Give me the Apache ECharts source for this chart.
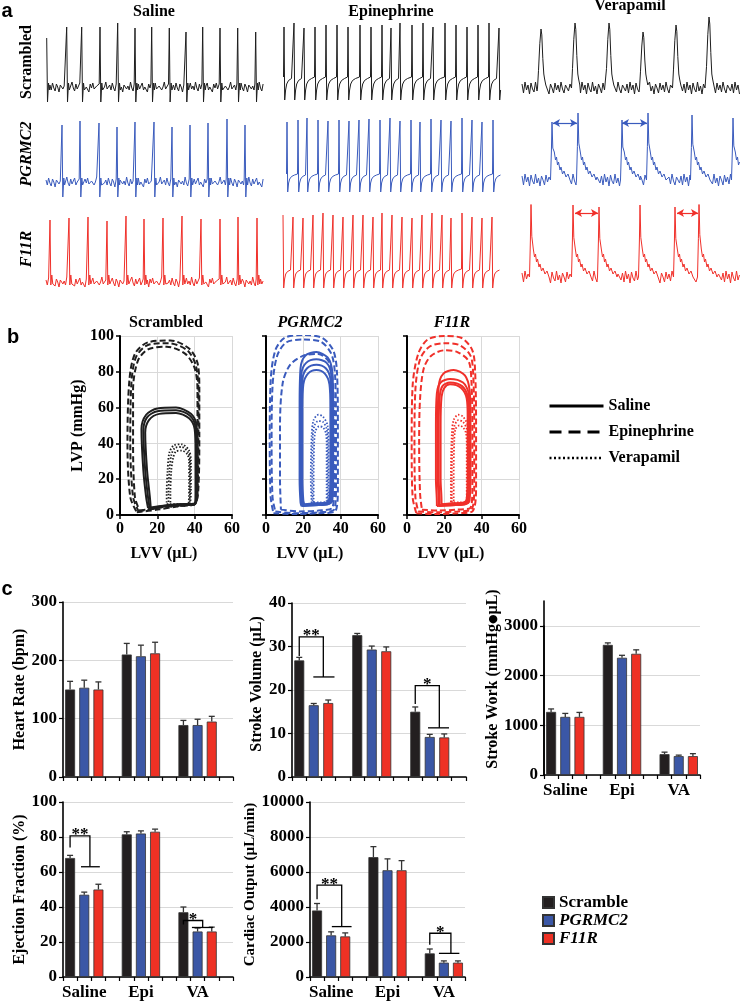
<!DOCTYPE html>
<html><head><meta charset="utf-8">
<script src="https://cdn.jsdelivr.net/npm/echarts@6/dist/echarts.min.js"></script>
<style>html,body{margin:0;padding:0;background:#fff}#c{width:740px;height:1001px}</style>
</head><body><div id="c"></div><script>
// ================= DATA =================
// --- panel a: ECG traces (beat position, beat amplitude) ---
const scrSalBeats = [[0.7,49],[20.7,60],[35.7,60],[54,60],[71.7,64],[89,59],[105.7,60],[123.3,59],[140,55],[156.7,60],[174,59],[191.7,59],[209.7,55]];
const pgSalBeats  = [[16,57],[34,61],[53,59],[71,55],[89,60],[108,60],[126,55],[144,57],[162,59],[181,63],[199,57]];
const f11SalBeats = [[4,62],[23,64],[42,65],[61,61],[80,66],[98,63],[117,64],[136,66],[155,63],[174,63],[192,65],[211,64]];
const scrEpiBeats = [[1,61],[11,65],[21,60],[32,61],[43,63],[54,63],[65,61],[77,63],[88,61],[99,63],[108,60],[117,65],[129,63],[140,65],[150,61],[162,65],[173,63],[184,61],[195,63],[206,65],[216,60]];
const pgEpiBeats  = [[4,60],[15,62],[24,64],[35,62],[45,61],[56,62],[66,61],[76,62],[86,63],[97,62],[107,64],[117,61],[128,62],[137,60],[148,63],[158,62],[168,61],[179,64],[189,62],[199,60],[210,62]];
const f11EpiBeats = [[0,67],[10,65],[20,64],[30,67],[40,69],[50,67],[60,65],[70,67],[80,67],[90,65],[99,69],[109,67],[119,65],[129,64],[139,67],[149,69],[159,67],[168,64],[179,69],[189,65],[199,64],[209,65]];
const scrVeraBeats = [[19,59],[53,65],[87,65],[121,56],[154,63],[187,71]];
const pgVeraBeats  = [[30,58],[56,67],[100,60],[126,67],[170,65],[211,62]];
const f11VeraBeats = [[9,74],[51,72],[77,70],[118,72],[153,70],[177,77]];
const pgArrows  = [[31,55,57],[100,125,57]];
const f11Arrows = [[53,76,64],[155,176,64]];
// beat shapes: [dx, fraction of amplitude, offset]
const salTpl    = [[-0.8,0,3],[0,1,0],[0.8,0,-15],[1.8,0,4],[2.6,0,-3]];
const salTplRed = [[-0.8,0,3],[0,1,0],[0.8,0,-3],[1.8,0,7],[2.8,0,-2]];
const epiTplScr = [[-0.5,0,11],[0,1,0],[0.7,0,-12],[1.6,0,-2],[2.7,0,4],[4.5,0,7.5],[7.5,0,9.5]];
const epiTplPg  = [[-0.5,0,8],[0,1,0],[0.7,0,-10],[1.6,0,-1],[2.7,0,3],[4.5,0,5.5],[7.5,0,7]];
const epiTplF11 = [[-0.5,0,13],[0,1,0],[0.7,0,-6],[1.6,0,3],[2.7,0,8],[4.5,0,10.5],[7.5,0,12]];
const veraTplScr  = [[-3.5,0,0],[-2.5,0.3,0],[-1.2,0.75,0],[0,1,0],[0.8,0.9,0],[1.8,0.5,0],[2.8,0,14],[3.6,0,9],[4.8,0,3]];
const veraTplWide = [[-1.5,0,0],[-0.6,0.5,0],[0,1,0],[0.8,0.55,0],[2.3,0,28],[3.5,0,20],[4.5,0,23],[5.5,0,15],[6.5,0,18],[8,0,10],[9,0,13],[10.5,0,6],[12,0,9],[14,0,3],[16,0,6],[18,0,0]];
const noiseSal  = [2,-3,4,-1,-4,3,0,-5,2,4,-2,1,-3,5,-1,-4,3,-2,1,4,-3,0,2,-5,3,-1,4,-2,-4,1,3,-3,0,5,-2,-1];
const noiseVera = [4,-5,6,-2,3,-6,5,-1,-4,6,-3,2,-6,4,0,-5,5,-2,3,-4,6,-1,-5,3,1,-3];

// --- panel b: PV loops [LVV, LVP] ---
const scrSalLoops = [
 [[15,4],[22,5],[32,6],[40,6.5],[41.5,12],[41.5,35],[41,50],[38,56.5],[30,60],[20,59.5],[14,56],[11.5,48],[12.5,25],[14,10],[15,4]],
 [[16,3],[22,4.5],[32,5.5],[40,6],[41,12],[41,35],[40.5,49],[37.5,55.5],[30,58.5],[20,58],[14.5,54.5],[12.5,47],[13.5,25],[15,10],[16,3]],
 [[16.5,3.5],[23,5],[32,6],[39.5,6],[40.5,12],[40.5,35],[40,48],[37,54],[30,57],[21,56.5],[15.5,53],[13.5,46],[14.5,25],[16,10],[16.5,3.5]]];
const scrEpiLoops = [
 [[9,1.5],[20,3],[32,5],[40,6],[42,15],[42.5,45],[42.5,70],[41.5,85],[37,93],[27,97.5],[15,96.5],[8,90],[5,75],[4,40],[5.5,10],[9,1.5]],
 [[10,2],[20,4],[32,5.5],[40,6],[41.5,15],[42,45],[42,70],[40.5,84],[36,92],[26,96],[15,95],[8.5,88],[6,72],[5.5,40],[7,10],[10,2]],
 [[10.5,2.5],[20,4],[32,5.5],[40,6],[41,15],[41.5,45],[41.5,70],[40,82],[35,90],[25,94],[15,92.5],[9.5,86],[7,70],[7,40],[8,10],[10.5,2.5]]];
const scrVeraLoops = [
 [[25,6],[32,6],[37,6],[38,15],[38,30],[37,36],[33,39.5],[29,39],[26.5,35],[25.5,25],[25,12],[25,6]],
 [[26,5],[32,5.5],[37,6],[37.5,15],[37.5,30],[36.5,35],[33,38],[29.5,37.5],[27.5,33.5],[26.5,25],[26,12],[26,5]],
 [[27,4.5],[32,5],[36.5,5.5],[37,15],[37,30],[36,34],[33,36],[30,35.5],[28.5,32],[27.5,25],[27,12],[27,4.5]]];
const pgSalLoops = [
 [[19,5],[26,5.5],[33,6],[35.5,8],[36,25],[36,60],[35.5,80],[33,88],[27,91],[21,89],[18.5,82],[18,60],[18,20],[18.5,7],[19,5]],
 [[19.5,5],[26,5.5],[33,6],[35,8],[35.5,25],[35.5,60],[35,78],[32.5,85],[27,87],[21.5,85],[19,79],[18.5,60],[18.5,20],[19,7],[19.5,5]],
 [[20,5.5],[26,6],[33,6.5],[34.5,8],[35,25],[35,60],[34.5,76],[32,82],[27,84],[22,82],[19.5,76],[19,60],[19,20],[19.5,7.5],[20,5.5]],
 [[20.5,6],[26,6.5],[32.5,7],[34,9],[34.5,25],[34.5,60],[34,73],[31.5,79],[27,81],[22.5,79],[20,73],[19.5,60],[19.5,20],[20,8],[20.5,6]]];
const pgEpiLoops = [
 [[4,1],[15,0.5],[28,1],[37,2],[38.5,15],[38.5,50],[38,80],[36,92],[30,99],[20,100.5],[10,99],[5,92],[2.5,75],[2,40],[2.5,10],[4,1]],
 [[5,2],[15,1],[28,1.5],[36.5,3],[37.5,15],[37.5,50],[37,78],[35,90],[29,97],[20,98],[11,96.5],[6,89],[3.5,72],[3,40],[3.5,10],[5,2]],
 [[8,3],[18,2],[28,2.5],[35.5,4],[36.5,15],[36.5,50],[36,72],[34,85],[28,90],[20,89],[13,84],[9,74],[7.5,50],[7.5,20],[8,3]]];
const pgVeraLoops = [
 [[24.5,6],[29,6],[33,6.5],[33.5,15],[33.5,40],[33,50],[30.5,55],[28,56],[25.5,53],[24.5,45],[24,20],[24.5,6]],
 [[25,6.5],[29,6.5],[33,7],[33,15],[33,40],[32.5,48],[30.5,52],[28,52.5],[26,50],[25,43],[24.8,20],[25,6.5]],
 [[25.5,7],[29,7],[32.5,7.5],[32.5,15],[32.5,40],[32,46],[30.5,49],[28.5,49.5],[26.5,47],[25.8,40],[25.5,20],[25.5,7]]];
const f11SalLoops = [
 [[17,5],[24,5.5],[31,6],[33.5,8],[34,25],[34,55],[33.5,70],[31,78],[25,81],[19.5,79],[17,72],[16.5,50],[16.5,20],[17,7],[17,5]],
 [[16,5],[24,5.5],[31,6],[33,8],[33.5,25],[33.5,55],[33,68],[30,74],[23,76],[18,74],[16,68],[15.5,50],[15.5,20],[16,7],[16,5]],
 [[17.5,5.5],[24,6],[31,6.5],[32.5,9],[33,25],[33,55],[32.5,66],[29.5,72],[23,74],[19,72],[17.5,66],[17,50],[17,20],[17.5,8],[17.5,5.5]],
 [[18.5,6],[24,6.5],[30.5,7],[32,9],[32.5,25],[32.5,55],[32,65],[29,71],[23,73],[20,71],[18.5,66],[18,50],[18,20],[18.5,8],[18.5,6]]];
const f11EpiLoops = [
 [[5,1],[15,0.5],[27,1],[35,2],[37,15],[37,50],[36.5,80],[35,92],[29,99],[20,100],[11,98],[6,90],[3,72],[2.5,40],[3,10],[5,1]],
 [[6,2],[16,1.5],[27,2],[34.5,3],[36,15],[36,50],[35.5,78],[34,89],[28,95],[20,96],[12,94],[7,87],[4.5,70],[4,40],[4.5,10],[6,2]],
 [[8,3],[17,2.5],[27,3],[34,4],[35,15],[35,50],[34.5,75],[33,86],[27,91],[20,92],[13,89],[9,82],[7,65],[6.5,40],[7,12],[8,3]]];
const f11VeraLoops = [
 [[23.5,6],[28,6],[32.5,6.5],[33,15],[33,40],[32.5,50],[30,55],[27.5,56],[25,53],[24,45],[23.5,20],[23.5,6]],
 [[24,6.5],[28,6.5],[32.5,7],[32.5,15],[32.5,40],[32,48],[30,52],[27.5,53],[25.5,50],[24.5,43],[24,20],[24,6.5]],
 [[25,7],[28,7],[32,7.5],[32,15],[32,40],[31.5,46],[30,49],[28,50],[26,48],[25.3,41],[25,20],[25,7]]];

// --- panel c: bar charts, rows = Scramble, PGRMC2, F11R ; cols = Saline, Epi, VA ---
const groupNames = ['Saline','Epi','VA'];
const barNames = ['Scramble','PGRMC2','F11R'];
const hrMeans = [[150,210,89],[153,207,89],[150,212,95]];
const hrErrs  = [[14,19,8],[13,19,10],[13,19,9]];
const svMeans = [[26.8,32.6,15.0],[16.5,29.3,9.2],[17.0,28.9,9.1]];
const svErrs  = [[0.7,0.4,1.1],[0.4,0.8,0.6],[0.7,1.0,0.8]];
const swMeans = [[1270,2620,420],[1170,2360,380],[1170,2440,380]];
const swErrs  = [[60,40,40],[70,50,20],[90,80,50]];
const efMeans = [[68,81.5,37],[47,82,26],[50,83,26]];
const efErrs  = [[1.5,1.5,3],[1.5,1.5,2],[3,1.5,2.5]];
const coMeans = [[3800,6850,1350],[2380,6100,820],[2320,6100,820]];
const coErrs  = [[400,600,250],[200,650,100],[200,550,100]];
// significance brackets: [left leg x, right leg x, top, left leg bottom, right leg bottom, bar from, bar to] (x in bar-slot units)
const svBrackets = [[0,1.66,32.2,27.8,23,0.97,2.43],[8,9.66,21,16.8,11.3,8.88,10.33]];
const efBrackets = [[0,1.4,80.6,74,63,0.77,2.1],[8,9.36,32.3,30,28.3,8.6,10.1]];
const coBrackets = [[0,1.75,5250,4450,2880,1.05,2.45],[8,9.5,2500,1850,1350,8.65,10.1]];
const svStars = ['**','*'], efStars = ['**','*'], coStars = ['**','*'];

// ================= BUILD =================
const SERIF = '"Liberation Serif","Times New Roman",serif';
const traceCols = ['#1e1e1e','#3a5bbd','#f0302a'];
const barCols = ['#231f20','#3b57a6','#ee3124'];
const grids = [], xAxes = [], yAxes = [], series = [];
const plain = v => String(v);

function buildTrace(beats, tpl, noise, step, len) {
  const pts = [];
  const lo = tpl[0][0], hi = tpl[tpl.length-1][0];
  if (noise) {
    let k = 0;
    for (let x = 0; x <= len; x += step) {
      if (beats.some(b => x >= b[0] + lo - 0.4 && x <= b[0] + hi + 0.4)) continue;
      pts.push([x, noise[k++ % noise.length]]);
    }
  }
  beats.forEach(b => tpl.forEach(t => {
    const x = b[0] + t[0];
    if (x >= 0 && x <= len) pts.push([x, t[1]*b[1] + t[2]]);
  }));
  pts.sort((a, b) => a[0] - b[0]);
  return pts;
}

const ecgLeft = [46, 283, 522];
const ecgBase = [[87,88,88],[182,182,180],[282,282,277]];
const ecgSpec = [
  [scrSalBeats, salTpl, noiseSal, 1.3], [scrEpiBeats, epiTplScr, null, 1], [scrVeraBeats, veraTplScr, noiseVera, 1.5],
  [pgSalBeats, salTpl, noiseSal, 1.3],  [pgEpiBeats, epiTplPg, null, 1],   [pgVeraBeats, veraTplWide, noiseVera, 1.5],
  [f11SalBeats, salTplRed, noiseSal, 1.3], [f11EpiBeats, epiTplF11, null, 1], [f11VeraBeats, veraTplWide, noiseVera, 1.5]];
ecgSpec.forEach((s, i) => {
  const r = Math.floor(i/3), c = i % 3, g = grids.length;
  grids.push({left: ecgLeft[c], top: ecgBase[r][c] - 72, width: 218, height: 96, outerBoundsMode: 'none'});
  xAxes.push({gridIndex: g, type: 'value', min: 0, max: 218, show: false});
  yAxes.push({gridIndex: g, type: 'value', min: -24, max: 72, show: false});
  const ser = {type: 'line', xAxisIndex: g, yAxisIndex: g, data: buildTrace(s[0], s[1], s[2], s[3], 218),
    showSymbol: false, symbol: 'none', silent: true, lineStyle: {color: traceCols[r], width: 1}, z: 2};
  const arrows = (i === 5) ? pgArrows : (i === 8) ? f11Arrows : null;
  if (arrows) ser.markLine = {silent: true, symbol: ['arrow','arrow'], symbolSize: [6,7], label: {show: false},
    lineStyle: {color: traceCols[r], width: 1.2, type: 'solid'},
    data: arrows.map(a => [{coord: [a[0], a[2]]}, {coord: [a[1], a[2]]}])};
  series.push(ser);
});

// PV plots
const lbl = {fontFamily: SERIF, fontWeight: 'bold', color: '#000'};
const splitGray = {show: true, lineStyle: {color: '#d9d9d9', width: 1}};
const pvLefts = [120, 266, 407];
const pvSets = [[scrSalLoops, scrEpiLoops, scrVeraLoops],[pgSalLoops, pgEpiLoops, pgVeraLoops],[f11SalLoops, f11EpiLoops, f11VeraLoops]];
const pvNames = ['Saline','Epinephrine','Verapamil'];
const pvStyles = [{type:'solid', width:2},{type:[6,3], width:2},{type:[1.5,1.8], width:1.8}];
pvLefts.forEach((L, i) => {
  const g = grids.length;
  grids.push({left: L, top: 336, width: 112, height: 179, outerBoundsMode: 'none'});
  xAxes.push({gridIndex: g, type: 'value', min: 0, max: 60, interval: 20,
    axisLine: {show: true, onZero: false, lineStyle: {color: '#000', width: 2}},
    axisTick: {show: true, length: 4, lineStyle: {color: '#000', width: 1.5}},
    axisLabel: {...lbl, fontSize: 16, margin: 6}, splitLine: splitGray,
    name: 'LVV (µL)', nameLocation: 'middle', nameGap: 31, nameTextStyle: {...lbl, fontSize: 16, padding: [0, 24, 0, 0]}});
  yAxes.push({gridIndex: g, type: 'value', min: 0, max: 100, interval: 20,
    axisLine: {show: true, onZero: false, lineStyle: {color: '#000', width: 2}},
    axisTick: {show: true, length: 4, lineStyle: {color: '#000', width: 1.5}},
    axisLabel: {show: i === 0, ...lbl, fontSize: 16, margin: 6}, splitLine: splitGray,
    name: i === 0 ? 'LVP (mmHg)' : '', nameLocation: 'middle', nameRotate: 90, nameGap: 31,
    nameTextStyle: {...lbl, fontSize: 16}});
  pvSets[i].forEach((loops, k) => loops.forEach(Lp => series.push({
    type: 'line', name: pvNames[k], xAxisIndex: g, yAxisIndex: g, data: Lp, showSymbol: false, symbol: 'none',
    smooth: 0.3, silent: true, lineStyle: {color: traceCols[i], ...pvStyles[k]}, itemStyle: {color: traceCols[i]}, z: 3})));
});

// bar charts
function addBarChart(o) {
  const g = grids.length;
  grids.push({left: o.left, top: o.top, width: o.width, height: o.height, outerBoundsMode: 'none'});
  const cats = [];
  for (let i = 0; i < o.nSlots; i++) cats.push(i % 4 === 1 ? groupNames[(i - 1) / 4] : '');
  xAxes.push({gridIndex: g, type: 'category', data: cats, boundaryGap: true,
    axisLine: {show: true, lineStyle: {color: '#000', width: 1.6}},
    axisTick: {show: true, interval: 0, length: 4, lineStyle: {color: '#000', width: 1.2}},
    axisLabel: {show: !!o.showCats, interval: 0, margin: 7, ...lbl, fontSize: 17}, splitLine: {show: false}});
  yAxes.push({gridIndex: g, type: 'value', min: 0, max: o.yMax, interval: o.yInt,
    axisLine: {show: true, lineStyle: {color: '#000', width: 1.6}},
    axisTick: {show: true, length: 4, lineStyle: {color: '#000', width: 1.2}},
    axisLabel: {...lbl, fontSize: 17, margin: 6, formatter: plain}, splitLine: splitGray,
    name: o.yName || '', nameLocation: 'middle', nameRotate: 90, nameGap: o.nameGap || 30,
    nameTextStyle: {...lbl, fontSize: o.nameSize || 16, padding: [0, 0, 0, o.nameShift || 0]}});
  o.means.forEach((arr, m) => {
    const data = cats.map((_, i) => (i % 4 === m && Math.floor(i / 4) < 3) ? arr[Math.floor(i / 4)] : null);
    series.push({type: 'bar', name: barNames[m], xAxisIndex: g, yAxisIndex: g, data, barWidth: 10, barGap: '-100%',
      silent: true, itemStyle: {color: barCols[m], borderColor: '#333', borderWidth: 0.8}, z: 2});
  });
  const errData = [];
  o.means.forEach((arr, m) => arr.forEach((v, gi) => errData.push([gi * 4 + m, v, o.errs[m][gi]])));
  series.push({type: 'custom', xAxisIndex: g, yAxisIndex: g, data: errData, silent: true, z: 4,
    renderItem: (params, api) => {
      const x = api.value(0), v = api.value(1), e = api.value(2);
      const p0 = api.coord([x, v]), p1 = api.coord([x, v + e]);
      const st = {stroke: '#333', lineWidth: 1.3};
      return {type: 'group', children: [
        {type: 'line', shape: {x1: p0[0], y1: p0[1], x2: p1[0], y2: p1[1]}, style: st},
        {type: 'line', shape: {x1: p1[0] - 3, y1: p1[1], x2: p1[0] + 3, y2: p1[1]}, style: st}]};
    }});
  if (o.brackets) series.push({type: 'custom', xAxisIndex: g, yAxisIndex: g, silent: true, z: 5,
    data: o.brackets.map(b => [b[0], b[2]]),
    renderItem: (params, api) => {
      const b = o.brackets[params.dataIndex];
      const x0 = api.coord([0, 0])[0], sw = api.coord([1, 0])[0] - x0;
      const X = f => x0 + f * sw, Y = v => api.coord([0, v])[1];
      const st = {stroke: '#000', lineWidth: 1.3, fill: 'none'};
      return {type: 'group', children: [
        {type: 'polyline', shape: {points: [[X(b[0]), Y(b[3])], [X(b[0]), Y(b[2])], [X(b[1]), Y(b[2])], [X(b[1]), Y(b[4])]]}, style: st},
        {type: 'line', shape: {x1: X(b[5]), y1: Y(b[4]), x2: X(b[6]), y2: Y(b[4])}, style: st},
        {type: 'text', x: (X(b[0]) + X(b[1])) / 2, y: Y(b[2]) - 1,
          style: {text: o.stars[params.dataIndex], font: 'bold 17px ' + SERIF, fill: '#000', align: 'center', verticalAlign: 'middle'}}]};
    }});
}
addBarChart({left: 63, top: 602, width: 170, height: 175, nSlots: 12, yMax: 300, yInt: 100, yName: 'Heart Rate (bpm)', nameGap: 35, means: hrMeans, errs: hrErrs});
addBarChart({left: 292, top: 603, width: 174, height: 174, nSlots: 12, yMax: 40, yInt: 10, yName: 'Stroke Volume (µL)', nameGap: 23, nameShift: 12, means: svMeans, errs: svErrs, brackets: svBrackets, stars: svStars});
// stroke work: tall axis line to 3500, ticks to 3000
(function () {
  const g = grids.length;
  grids.push({left: 544, top: 601, width: 156, height: 174, outerBoundsMode: 'none'});
  xAxes.push({gridIndex: g, type: 'value', min: 0, max: 1, show: false});
  yAxes.push({gridIndex: g, type: 'value', min: 0, max: 3500, axisLine: {show: true, lineStyle: {color: '#000', width: 1.6}},
    axisTick: {show: false}, axisLabel: {show: false}, splitLine: {show: false},
    name: 'Stroke Work (mmHg{b|●}µL)', nameLocation: 'middle', nameRotate: 90, nameGap: 43,
    nameTextStyle: {...lbl, fontSize: 16, padding: [0, 0, 0, 18], rich: {b: {fontSize: 11, fontWeight: 'bold', color: '#000', fontFamily: 'DejaVu Sans'}}}});
})();
addBarChart({left: 544, top: 626, width: 156, height: 149, nSlots: 11, yMax: 3000, yInt: 1000, means: swMeans, errs: swErrs, showCats: true});
addBarChart({left: 63, top: 802, width: 170, height: 175, nSlots: 12, yMax: 100, yInt: 20, yName: 'Ejection Fraction (%)', nameGap: 35, means: efMeans, errs: efErrs, brackets: efBrackets, stars: efStars, showCats: true});
addBarChart({left: 310, top: 802, width: 155, height: 175, nSlots: 11, yMax: 10000, yInt: 2000, yName: 'Cardiac Output (µL/min)', nameGap: 47, nameSize: 15, nameShift: 10, means: coMeans, errs: coErrs, brackets: coBrackets, stars: coStars, showCats: true});

// texts
const T = (text, x, y, font, rot) => ({type: 'text', x, y, rotation: rot || 0, silent: true,
  style: {text, font, fill: '#000', align: 'center', verticalAlign: 'middle'}});
const B16 = 'bold 16px ' + SERIF, BI16 = 'italic bold 16px ' + SERIF;
const LET = 'bold 20px "Liberation Sans",Arial,sans-serif';
const graphic = [
  T('a', 7, 11, LET), T('b', 13, 337, LET), T('c', 7, 589, LET),
  T('Saline', 154, 12, B16), T('Epinephrine', 391, 12, B16), T('Verapamil', 630, 6, B16),
  T('Scrambled', 27, 62, B16, Math.PI / 2), T('PGRMC2', 27, 154, BI16, Math.PI / 2), T('F11R', 27, 249, BI16, Math.PI / 2),
  T('Scrambled', 166, 323, B16), T('PGRMC2', 310, 323, BI16), T('F11R', 452, 323, BI16)];

const option = {
  animation: false, backgroundColor: '#fff',
  grid: grids, xAxis: xAxes, yAxis: yAxes, series, graphic,
  legend: [
    {selectedMode: false, orient: 'vertical', left: 548, top: 398, padding: 0, itemWidth: 54, itemHeight: 14, itemGap: 10,
     itemStyle: {opacity: 0, color: 'rgba(0,0,0,0)', borderWidth: 0},
     textStyle: {...lbl, fontSize: 16},
     data: [{name: 'Saline', lineStyle: {width: 3, type: 'solid', color: '#000'}},
            {name: 'Epinephrine', lineStyle: {width: 3, type: [12, 7], color: '#000'}},
            {name: 'Verapamil', lineStyle: {width: 2.5, type: [2, 2.5], color: '#000'}}]},
    {selectedMode: false, orient: 'vertical', left: 542, top: 894, padding: 0, itemWidth: 11, itemHeight: 11, itemGap: 1, icon: 'rect',
     textStyle: {...lbl, fontSize: 17, lineHeight: 15, rich: {i: {fontFamily: SERIF, fontWeight: 'bold', fontStyle: 'italic', fontSize: 17, lineHeight: 15}}},
     formatter: n => n === 'Scramble' ? n : '{i|' + n + '}',
     data: ['Scramble', 'PGRMC2', 'F11R']}]
};
const chart = echarts.init(document.getElementById('c'), null, {renderer: 'canvas'});
chart.setOption(option);
</script></body></html>
